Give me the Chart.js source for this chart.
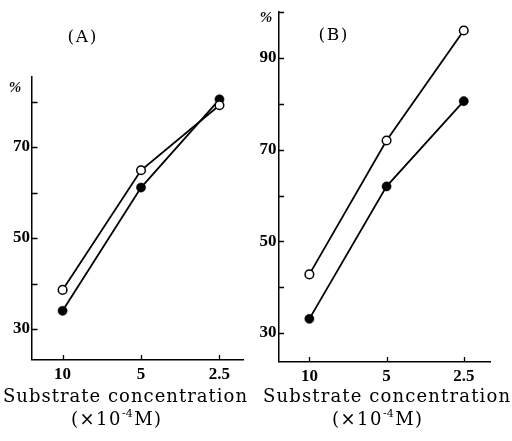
<!DOCTYPE html>
<html>
<head>
<meta charset="utf-8">
<script src="https://cdn.jsdelivr.net/npm/chart.js@4.4.1/dist/chart.umd.min.js"></script>
<style>
  html, body { margin: 0; padding: 0; background: #fff; }
  #wrap { position: relative; width: 512px; height: 441px; overflow: hidden; }
  canvas { position: absolute; top: 0; }
</style>
</head>
<body>
<div id="wrap">
  <canvas id="cA" width="256" height="441" style="left:0"></canvas>
  <canvas id="cB" width="256" height="441" style="left:256px"></canvas>
</div>
<script>
// ---- data ----
const xCategories = ['10', '5', '2.5'];
const yTicksA = [30, 40, 50, 60, 70, 80];
const yTicksB = [30, 40, 50, 60, 70, 80, 90, 100];
const yLabelled = [30, 50, 70, 90];
const openA   = [38.6, 64.9, 79.2];
const filledA = [34.0, 61.1, 80.5];
const openB   = [42.8, 72.0, 96.0];
const filledB = [33.1, 62.0, 80.6];
const panelA = '(A)';
const panelB = '(B)';
const yUnit = '%';
const xTitle = 'Substrate concentration';
const xUnitPre = '(\u00d710';
const xUnitSup = '-4';
const xUnitPost = 'M)';

const SERIF = '"Liberation Serif", "Times New Roman", serif';
const WIDE = '"DejaVu Serif", serif';

// draw text centred at cx, spread to a given total width
function drawFit(ctx, text, cx, y, target) {
  const chars = Array.from(text);
  const widths = chars.map(c => ctx.measureText(c).width);
  const nat = widths.reduce((a, b) => a + b, 0);
  const sp = chars.length > 1 ? Math.max(0, (target - nat) / (chars.length - 1)) : 0;
  const total = nat + sp * (chars.length - 1);
  let x = cx - total / 2;
  ctx.textAlign = 'left';
  chars.forEach((c, i) => { ctx.fillText(c, x, y); x += widths[i] + sp; });
}

function makeChart(id, open, filled, yTicks, cfg) {
  const toPts = arr => arr.map((v, i) => ({ x: i, y: v }));
  const decor = {
    id: 'decor',
    beforeDatasetsDraw(chart) {
      const ctx = chart.ctx;
      const xs = chart.scales.x, ys = chart.scales.y;
      const a = chart.chartArea;
      ctx.save();
      ctx.strokeStyle = '#000';
      ctx.lineWidth = 1.3;
      ctx.beginPath();
      ys.ticks.forEach(t => {
        const py = Math.round(ys.getPixelForValue(t.value)) + 0.5;
        ctx.moveTo(a.left, py); ctx.lineTo(a.left + 5.5, py);
      });
      xs.ticks.forEach(t => {
        const px = Math.round(xs.getPixelForValue(t.value)) + 0.5;
        ctx.moveTo(px, a.bottom); ctx.lineTo(px, a.bottom - 4.5);
      });
      ctx.stroke();
      ctx.restore();
    },
    afterDraw(chart) {
      const ctx = chart.ctx;
      ctx.save();
      ctx.fillStyle = '#000';
      ctx.textBaseline = 'alphabetic';
      // panel label
      ctx.font = '17px ' + WIDE;
      drawFit(ctx, cfg.panel, cfg.panelX, cfg.panelY, 29);
      // percent sign
      ctx.font = 'bold italic 15px ' + SERIF;
      drawFit(ctx, yUnit, cfg.pctX, cfg.pctY, 0);
      // x title
      ctx.font = '18px ' + WIDE;
      drawFit(ctx, xTitle, cfg.titleX, 402, cfg.titleW);
      // unit line
      const sp = 1.5;
      ctx.font = '18px ' + WIDE;
      const w1 = Array.from(xUnitPre).reduce((s, c) => s + ctx.measureText(c).width + sp, 0);
      const w3 = Array.from(xUnitPost).reduce((s, c) => s + ctx.measureText(c).width + sp, 0);
      ctx.font = '11px ' + WIDE;
      const w2 = ctx.measureText(xUnitSup).width + sp;
      let x = cfg.unitX - (w1 + w2 + w3 - sp) / 2;
      ctx.textAlign = 'left';
      ctx.font = '18px ' + WIDE;
      Array.from(xUnitPre).forEach(c => { ctx.fillText(c, x, 424.5); x += ctx.measureText(c).width + sp; });
      ctx.font = '11px ' + WIDE;
      ctx.fillText(xUnitSup, x, 417); x += w2;
      ctx.font = '18px ' + WIDE;
      Array.from(xUnitPost).forEach(c => { ctx.fillText(c, x, 424.5); x += ctx.measureText(c).width + sp; });
      ctx.restore();
    }
  };
  return new Chart(document.getElementById(id), {
    type: 'line',
    data: {
      datasets: [
        {
          data: toPts(open),
          borderColor: '#000', borderWidth: 1.8,
          pointRadius: 4.3, pointBorderWidth: 1.5,
          pointBackgroundColor: '#fff', pointBorderColor: '#000',
          tension: 0, clip: false
        },
        {
          data: toPts(filled),
          borderColor: '#000', borderWidth: 1.8,
          pointRadius: 4.6, pointBorderWidth: 0.5,
          pointBackgroundColor: '#000', pointBorderColor: '#000',
          tension: 0, clip: false
        }
      ]
    },
    options: {
      responsive: false,
      animation: false,
      events: [],
      layout: { padding: { left: 0, top: cfg.top, right: cfg.right, bottom: 0 } },
      plugins: { legend: { display: false }, tooltip: { enabled: false }, title: { display: false } },
      scales: {
        x: {
          type: 'linear',
          min: cfg.xMin, max: cfg.xMax,
          afterBuildTicks: s => { s.ticks = xCategories.map((c, i) => ({ value: i })); },
          afterFit: s => { s.height = cfg.xH; },
          grid: { display: true, drawOnChartArea: false, drawTicks: false },
          border: { display: true, color: '#000', width: 1.5 },
          ticks: {
            padding: 5,
            color: '#000',
            font: { family: SERIF, size: 17, weight: 'bold' },
            callback: v => xCategories[v]
          }
        },
        y: {
          type: 'linear',
          min: cfg.yMin, max: cfg.yMax,
          afterBuildTicks: s => { s.ticks = yTicks.map(v => ({ value: v })); },
          afterFit: s => { s.width = cfg.yW; },
          grid: { display: true, drawOnChartArea: false, drawTicks: false },
          border: { display: true, color: '#000', width: 1.5 },
          ticks: {
            padding: 2,
            color: '#000',
            font: { family: SERIF, size: 17, weight: 'bold' },
            callback: v => (yLabelled.includes(v) ? String(v) : '')
          }
        }
      }
    },
    plugins: [decor]
  });
}

makeChart('cA', openA, filledA, yTicksA, {
  top: 77, right: 13, xH: 81.5, yW: 32,
  xMin: -0.39, xMax: 2.30, yMin: 23.3, yMax: 85.4,
  panel: panelA, panelX: 82, panelY: 42,
  pctX: 15, pctY: 92,
  titleX: 125, titleW: 244, unitX: 116
});
makeChart('cB', openB, filledB, yTicksB, {
  top: 11, right: 22, xH: 79.5, yW: 22.5,
  xMin: -0.40, xMax: 2.34, yMin: 23.8, yMax: 100,
  panel: panelB, panelX: 77, panelY: 40,
  pctX: 10, pctY: 22,
  titleX: 130.5, titleW: 247, unitX: 121
});
</script>
</body>
</html>
